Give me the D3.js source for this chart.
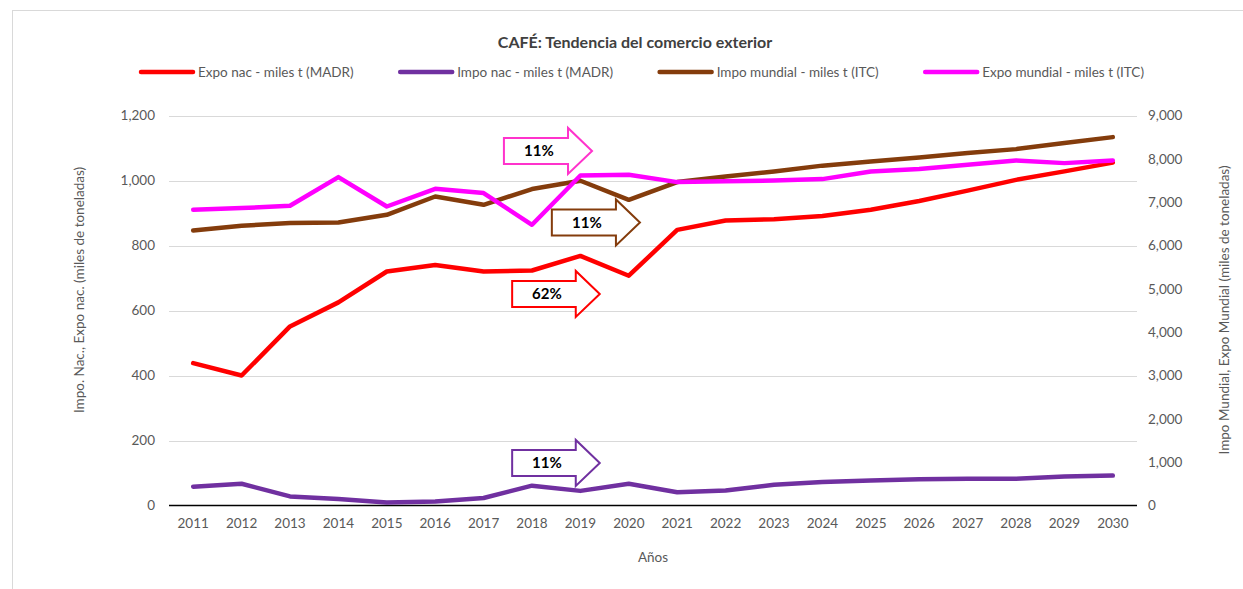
<!DOCTYPE html>
<html>
<head>
<meta charset="utf-8">
<script src="https://cdn.jsdelivr.net/npm/d3@7"></script>
<style>
  body { margin: 0; background: #fff; }
  svg { display: block; font-family: Lato, "Open Sans", sans-serif; }
</style>
</head>
<body>
<div id="chart"></div>
<script>
// Years on the x axis
const years = ["2011","2012","2013","2014","2015","2016","2017","2018","2019","2020",
               "2021","2022","2023","2024","2025","2026","2027","2028","2029","2030"];

// Left axis series (miles t)
const expoNac = [438, 400, 551, 625, 720, 740, 720, 723, 768, 707, 848, 877, 881, 891, 910, 937, 969, 1002, 1028, 1055];
const impoNac = [58, 67, 28, 20, 9, 12, 23, 61, 45, 67, 41, 46, 64, 72, 77, 81, 82, 82, 89, 92];

// Right axis series (miles t)
const impoMundial = [6346, 6455, 6517, 6531, 6709, 7131, 6940, 7302, 7494, 7055, 7463, 7593, 7709, 7843, 7939, 8031, 8132, 8224, 8363, 8501];
const expoMundial = [6824, 6863, 6916, 7578, 6900, 7308, 7209, 6478, 7616, 7632, 7463, 7480, 7500, 7532, 7709, 7763, 7862, 7962, 7901, 7962];

// Tick labels
const leftTicks = [0, 200, 400, 600, 800, 1000, 1200];
const rightTicks = [0, 1000, 2000, 3000, 4000, 5000, 6000, 7000, 8000, 9000];

// Growth arrows: label, start/end year (fractional), level on left axis
const arrowLabels = ["11%", "11%", "62%", "11%"];
const arrowStart = [2017.42, 2018.41, 2017.59, 2017.59];
const arrowEnd = [2019.24, 2020.23, 2019.40, 2019.40];
const arrowLevel = [1091, 871, 651, 131];

const W = 1243, H = 589;
const svg = d3.select("#chart").append("svg").attr("width", W).attr("height", H);

// outer chart border
svg.append("rect").attr("x", 12.5).attr("y", 10.5).attr("width", W).attr("height", H)
  .attr("fill", "none").attr("stroke", "#d9d9d9");

const x = d3.scaleBand().domain(years).range([169, 1137]);
const cx = d => x(d) + x.bandwidth() / 2;
const xf = yr => cx("2011") + (yr - 2011) * x.step();
const yL = d3.scaleLinear().domain([0, 1200]).range([505.5, 115.5]);
const yR = d3.scaleLinear().domain([0, 9000]).range([505.5, 115.5]);

// gridlines
svg.append("g").selectAll("line").data(leftTicks.filter(d => d > 0)).join("line")
  .attr("x1", 169).attr("x2", 1137)
  .attr("y1", d => Math.round(yL(d)) + 0.5).attr("y2", d => Math.round(yL(d)) + 0.5)
  .attr("stroke", "#d9d9d9").attr("stroke-width", 1);

// axes
const gL = svg.append("g").attr("transform", "translate(169,0)")
  .call(d3.axisLeft(yL).tickValues(leftTicks).tickFormat(d3.format(",")).tickSize(0).tickPadding(14));
const gR = svg.append("g").attr("transform", "translate(1137,0)")
  .call(d3.axisRight(yR).tickValues(rightTicks).tickFormat(d3.format(",")).tickSize(0).tickPadding(11));
const gX = svg.append("g").attr("transform", "translate(0,505.5)")
  .call(d3.axisBottom(x).tickSize(0).tickPadding(13));
[gL, gR, gX].forEach(g => {
  g.select(".domain").remove();
  g.selectAll("text").attr("fill", "#595959").style("font-size", "13.5px").style("font-family", "Lato, sans-serif");
});
svg.append("line").attr("x1", 169).attr("x2", 1137).attr("y1", 505.5).attr("y2", 505.5)
  .attr("stroke", "#000").attr("stroke-width", 1.5);

// axis titles
svg.append("text").attr("transform", "translate(84,290) rotate(-90)")
  .attr("text-anchor", "middle").attr("fill", "#595959").style("font-size", "13.5px")
  .text("Impo. Nac., Expo nac. (miles de toneladas)");
svg.append("text").attr("transform", "translate(1229,310) rotate(-90)")
  .attr("text-anchor", "middle").attr("fill", "#595959").style("font-size", "13.5px")
  .text("Impo Mundial, Expo Mundial (miles de toneladas)");
svg.append("text").attr("x", cx("2020") + x.step() / 2).attr("y", 562)
  .attr("text-anchor", "middle").attr("fill", "#595959").style("font-size", "13.5px")
  .text("Años");

// title
svg.append("text").attr("x", 635).attr("y", 48).attr("text-anchor", "middle")
  .attr("fill", "#404040").style("font-size", "16px").style("font-weight", "bold")
  .text("CAFÉ: Tendencia del comercio exterior");

// series
const series = [
  { name: "Expo nac - miles t (MADR)", values: expoNac, scale: yL, color: "#ff0000" },
  { name: "Impo nac - miles t (MADR)", values: impoNac, scale: yL, color: "#7030a0" },
  { name: "Impo mundial - miles t (ITC)", values: impoMundial, scale: yR, color: "#843c0c" },
  { name: "Expo mundial - miles t (ITC)", values: expoMundial, scale: yR, color: "#ff00ff" }
];
const drawOrder = [1, 0, 2, 3];
drawOrder.forEach(i => {
  const s = series[i];
  const line = d3.line().x((d, j) => cx(years[j])).y(d => s.scale(d));
  svg.append("path").datum(s.values).attr("d", line)
    .attr("fill", "none").attr("stroke", s.color).attr("stroke-width", 4.5)
    .attr("stroke-linejoin", "round").attr("stroke-linecap", "round");
});

// legend
const leg = svg.append("g");
const items = series.map(s => {
  const g = leg.append("g");
  g.append("line").attr("x1", 0).attr("x2", 52).attr("y1", 0).attr("y2", 0)
    .attr("stroke", s.color).attr("stroke-width", 4.5).attr("stroke-linecap", "round");
  const t = g.append("text").attr("x", 57).attr("y", 4.5).attr("fill", "#595959")
    .style("font-size", "13.5px").text(s.name);
  return { g, w: 57 + t.node().getComputedTextLength() };
});
const totalW = d3.sum(items, d => d.w);
const gap = (1003 - totalW) / 3;
let lx = 141;
items.forEach(it => { it.g.attr("transform", `translate(${lx},72)`); lx += it.w + gap; });

// growth arrows
const arrowColors = ["#ff33cc", "#843c0c", "#ff0000", "#7030a0"];
arrowLabels.forEach((lab, i) => {
  const x0 = xf(arrowStart[i]), x2 = xf(arrowEnd[i]), yc = yL(arrowLevel[i]);
  const bh = 13, hh = 23, hl = 24, x1 = x2 - hl;
  const pts = [[x0, yc - bh], [x1, yc - bh], [x1, yc - hh], [x2, yc], [x1, yc + hh], [x1, yc + bh], [x0, yc + bh]];
  svg.append("path").attr("d", "M" + pts.join("L") + "Z")
    .attr("fill", "#fff").attr("stroke", arrowColors[i]).attr("stroke-width", 2);
  svg.append("text").attr("x", (x0 + x1) / 2 + 3).attr("y", yc + 5.5).attr("text-anchor", "middle")
    .attr("fill", "#000").style("font-size", "15px").style("font-weight", "bold").text(lab);
});
</script>
</body>
</html>
